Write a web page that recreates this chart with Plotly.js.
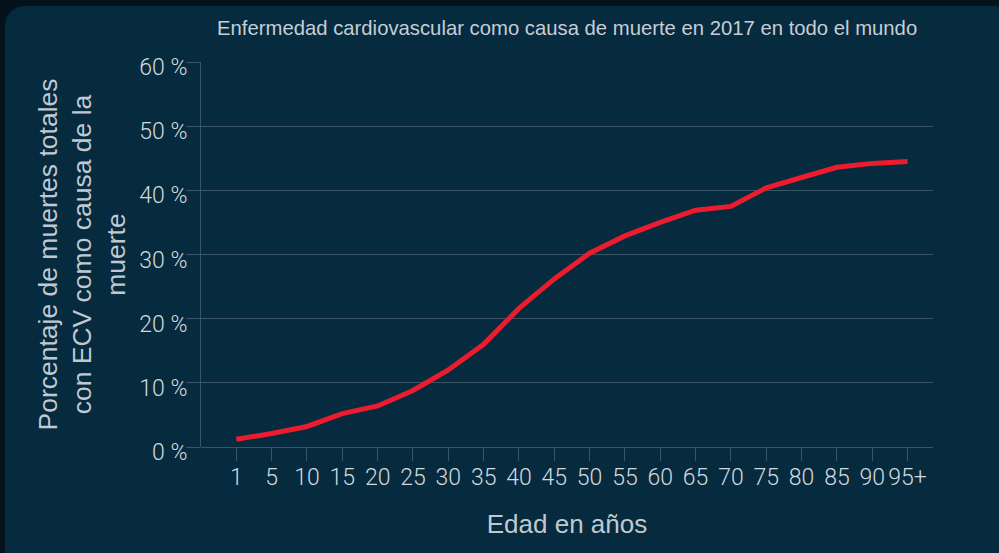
<!DOCTYPE html>
<html><head><meta charset="utf-8">
<script src="https://cdn.plot.ly/plotly-3.0.1.min.js"></script>
<style>
html,body{margin:0;padding:0;background:#03121c;width:999px;height:553px;overflow:hidden;}
#card{position:absolute;left:5px;top:6px;width:1010px;height:570px;background:#062a3e;border-radius:20px;}
#chart{position:absolute;left:0;top:0;width:999px;height:553px;}
</style></head><body>
<div id="card"></div>
<div id="chart"></div>
<script>
const ages = ['1','5','10','15','20','25','30','35','40','45','50','55','60','65','70','75','80','85','90','95+'];
const cvdShare = [1.2,2.1,3.2,5.2,6.4,8.8,12.0,16.0,21.6,26.2,30.2,32.9,35.0,36.9,37.5,40.4,42.0,43.6,44.2,44.5];
const yTicks = [0,10,20,30,40,50,60];

const grid = '#3b5566';
const tickFont = {family: 'Roboto', weight: 300, stretch: 'condensed', size: 23, color: '#d2d9df'};
const sans = 'Arial, "Liberation Sans", sans-serif';

Plotly.newPlot('chart', [{
  x: ages, y: cvdShare, type: 'scatter', mode: 'lines',
  line: {color: '#ec1c2f', width: 5},
  hoverinfo: 'skip'
}], {
  width: 999, height: 553,
  paper_bgcolor: 'rgba(0,0,0,0)', plot_bgcolor: 'rgba(0,0,0,0)',
  margin: {l: 201, r: 66, t: 62, b: 106},
  showlegend: false,
  title: {text: 'Enfermedad cardiovascular como causa de muerte en 2017 en todo el mundo',
    font: {family: sans, size: 20.3, color: '#c5ced6'},
    x: 0.5677, xanchor: 'center', y: 0.95, yanchor: 'middle'},
  xaxis: {
    type: 'category', range: [-1, 19.72],
    showgrid: false, zeroline: false, showline: false,
    ticks: 'outside', ticklen: 13, tickcolor: grid, tickwidth: 1,
    tickfont: tickFont, tickangle: 0, ticklabelstandoff: -4,
    title: {text: 'Edad en años', font: {family: sans, size: 26, color: '#c0c9d1'}, standoff: 25}
  },
  yaxis: {
    range: [0, 60], tickvals: yTicks, ticktext: yTicks.map(v => v + ' %'),
    showgrid: true, gridcolor: grid, gridwidth: 1,
    zeroline: true, zerolinecolor: grid, zerolinewidth: 1,
    showline: true, linecolor: grid, linewidth: 1,
    ticks: 'outside', ticklen: 14, tickcolor: grid, tickwidth: 1,
    tickfont: tickFont, ticklabelstandoff: -6, ticklabelshift: 5,
    title: {text: 'Porcentaje de muertes totales<br>con ECV como causa de la<br>muerte', font: {family: sans, size: 26.5, color: '#c0c9d1'}, standoff: 5}
  }
}, {displayModeBar: false, staticPlot: true});
</script>
</body></html>
